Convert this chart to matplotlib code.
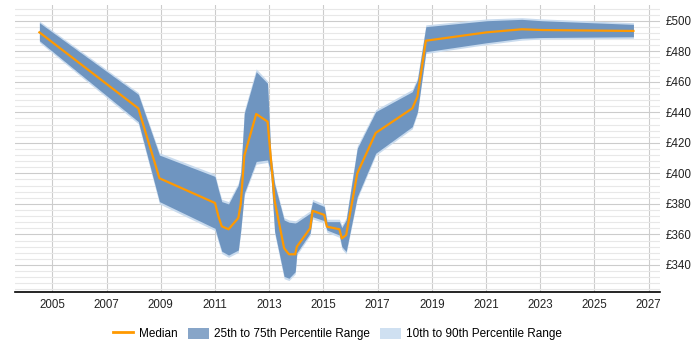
import matplotlib
matplotlib.use("Agg")
import matplotlib.pyplot as plt
from matplotlib.patches import Patch
from matplotlib.lines import Line2D
from matplotlib.ticker import MultipleLocator, FuncFormatter

# data
years = [2004.52, 2008.17, 2008.95, 2011.0, 2011.13, 2011.25, 2011.5, 2011.86,
         2011.95, 2012.08, 2012.52, 2012.94, 2013.06, 2013.2, 2013.55, 2013.73,
         2013.96, 2014.02, 2014.51, 2014.6, 2015.03, 2015.13, 2015.59, 2015.68,
         2015.84, 2016.25, 2016.93, 2018.28, 2018.47, 2018.78, 2021.03, 2022.32,
         2023.06, 2026.44]
median = [492.4, 442.6, 396.8, 380.6, 371.6, 365.3, 363.4, 370.8,
          380, 411.4, 438.9, 433.9, 410, 382, 351, 347,
          347, 352, 364, 375.5, 372.8, 365.1, 363.4, 357.4,
          359.6, 400, 426.5, 442.6, 450.2, 486.9, 492.4, 494.4,
          493.9, 493.3]
p75 = [498.7, 451.8, 412, 398, 389, 381.5, 380, 392.3,
       400, 439.3, 466.6, 459, 412, 393, 369.5, 368,
       367.5, 368, 373.9, 381.5, 378.3, 368.4, 368.4, 364.5,
       369.5, 416.4, 440.4, 453.5, 461.2, 496.1, 500, 500.9,
       500, 497.6]
p25 = [486.9, 433.9, 381.5, 364, 356, 349, 346.5, 349.8,
       362.9, 387, 407.8, 408.8, 400, 362, 332.5, 331.3,
       335.6, 348, 360.8, 371.6, 369, 362.9, 359.6, 352,
       348.8, 384.7, 413.2, 430.6, 440.4, 479.7, 485.6, 488.5,
       489, 489.5]
p90 = [499.8, 453, 413.5, 399.5, 390.5, 383, 381.5, 393.8,
       401.5, 441, 468.5, 460.5, 413.5, 394.5, 371, 369.5,
       369, 369.5, 375.5, 383, 379.8, 370, 370, 366,
       371, 418, 441.8, 455, 462.7, 497.3, 501.2, 502,
       501.2, 498.7]
p10 = [485.8, 432.5, 380, 362.5, 354.5, 347.5, 345, 348.3,
       361.4, 385.5, 406, 407.2, 398.5, 360.5, 331, 329.8,
       334.1, 346.5, 359.3, 370.1, 367.5, 361.4, 358.1, 350.5,
       347.2, 383.2, 411.8, 429.2, 439, 478.5, 484.4, 487.3,
       488, 488.4]

plt.rcParams['font.family'] = ['Liberation Sans', 'DejaVu Sans']
plt.rcParams['font.size'] = 8.3

fig = plt.figure(figsize=(7, 3.5), dpi=100)
ax = fig.add_axes([15 / 700, 1 - 292 / 350, 645 / 700, 287 / 350])

ax.fill_between(years, p10, p90, color='#c9dbee', linewidth=0, zorder=2)
ax.fill_between(years, p25, p75, color='#6f95c0', linewidth=0, zorder=3)
ax.plot(years, median, color='#ff9900', linewidth=1.6, zorder=4)

ax.set_xlim(2003.62, 2027.42)
ax.set_ylim(322.3, 510.3)

ax.xaxis.set_major_locator(MultipleLocator(2, offset=1))
ax.yaxis.set_major_locator(MultipleLocator(20))
ax.yaxis.set_minor_locator(MultipleLocator(4))
ax.yaxis.set_major_formatter(FuncFormatter(lambda v, p: f"£{v:.0f}"))

ax.grid(axis='x', which='major', color='#cccccc', linewidth=0.8, zorder=0)
ax.grid(axis='y', which='major', color='#cccccc', linewidth=0.8, zorder=0)
ax.grid(axis='y', which='minor', color='#e8e8e8', linewidth=0.8, zorder=0)
ax.set_axisbelow(True)

ax.yaxis.tick_right()
ax.tick_params(axis='y', which='both', length=0, pad=4, labelcolor='#222222')
ax.tick_params(axis='x', length=0, pad=5, labelcolor='#222222')

for side in ['left', 'right', 'top']:
    ax.spines[side].set_visible(False)
ax.spines['bottom'].set_color('#000000')
ax.spines['bottom'].set_linewidth(1.2)

handles = [
    Line2D([], [], color='#ff9900', linewidth=2),
    Patch(facecolor='#87a5c8', edgecolor='none'),
    Patch(facecolor='#cfe0f1', edgecolor='none'),
]
labels = ['Median', '25th to 75th Percentile Range', '10th to 90th Percentile Range']
fig.legend(handles, labels, loc='center', bbox_to_anchor=(0.482, 0.046), ncol=3,
           frameon=False, handlelength=1.75, handleheight=1.05, handletextpad=0.45,
           columnspacing=0.9, fontsize=8.5)

fig.savefig('out.png', dpi=100)
